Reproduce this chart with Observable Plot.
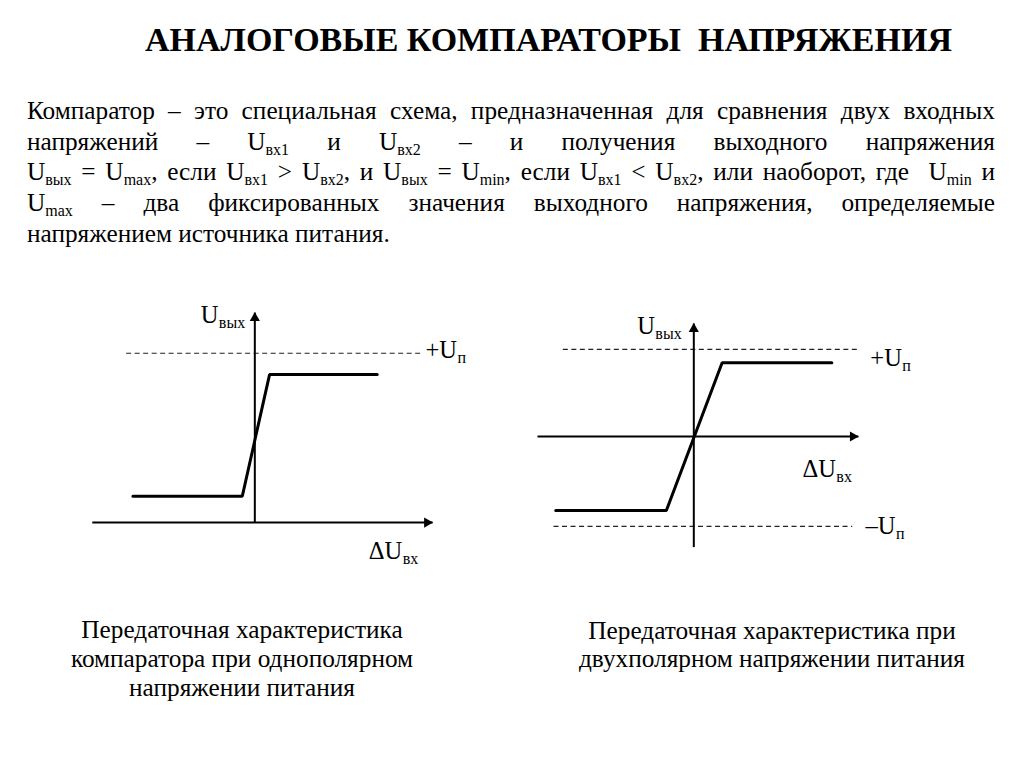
<!DOCTYPE html>
<html><head><meta charset="utf-8">
<script src="https://cdn.jsdelivr.net/npm/d3@7"></script>
<script src="https://cdn.jsdelivr.net/npm/@observablehq/plot@0.6"></script>
<style>
html,body{margin:0;padding:0;background:#fff;}
body{width:1024px;height:767px;position:relative;overflow:hidden;color:#000;}
#title{position:absolute;left:73px;top:23px;width:951px;text-align:center;font-weight:bold;font-size:34px;line-height:34px;white-space:pre;}
.pl{position:absolute;left:27px;width:968px;height:31px;line-height:31px;font-size:25.3px;text-align:justify;text-align-last:justify;white-space:nowrap;}
.pl.last{text-align-last:left;}
.pl sub{font-size:16px;vertical-align:-5px;line-height:0;}
.cap{position:absolute;text-align:center;font-size:25.3px;white-space:nowrap;}
.fig{position:absolute;}
</style></head><body style="font-family:'Liberation Serif',serif">
<div id="title" style="font-family:'Liberation Serif',serif">АНАЛОГОВЫЕ КОМПАРАТОРЫ  НАПРЯЖЕНИЯ</div>
<div id="para" style="font-family:'Liberation Serif',serif"></div>
<div id="figL" class="fig" style="left:60px;top:270px"></div>
<div id="figR" class="fig" style="left:530px;top:300px"></div>
<div class="cap" style="left:42px;top:615px;width:400px;line-height:29.2px;font-family:'Liberation Serif',serif" id="capL"></div>
<div class="cap" style="left:552px;top:615.5px;width:440px;line-height:28.3px;font-family:'Liberation Serif',serif" id="capR"></div>
<script>
// ---- text content ----
const paragraphLines = [
  "Компаратор – это специальная схема, предназначенная для сравнения двух входных",
  "напряжений – U<sub>вх1</sub> и U<sub>вх2</sub> – и получения выходного напряжения",
  "U<sub>вых</sub> = U<sub>max</sub>, если U<sub>вх1</sub> &gt; U<sub>вх2</sub>, и U<sub>вых</sub> = U<sub>min</sub>, если U<sub>вх1</sub> &lt; U<sub>вх2</sub>, или наоборот, где &nbsp;U<sub>min</sub> и",
  "U<sub>max</sub> – два фиксированных значения выходного напряжения, определяемые",
  "напряжением источника питания."
];
const captionLeft = ["Передаточная характеристика", "компаратора при однополярном", "напряжении питания"];
const captionRight = ["Передаточная характеристика при", "двухполярном напряжении питания"];

// ---- left diagram (unipolar supply) ----
const leftAxes = [{x1:-9.6,y1:0,x2:10.5,y2:0},{x1:0,y1:0,x2:0,y2:12.4}];
const leftHeadX = [{x:10.5,y:0}];
const leftHeadY = [{x:0,y:12.4}];
const leftDashed = [{x1:-7.6,y1:10,x2:9.8,y2:10}];
const leftCurve = [{x:-7.2,y:1.55},{x:-0.74,y:1.55},{x:0.87,y:8.74},{x:7.23,y:8.74}];
const leftLabels = [
  {x:-3.2,y:11.8,main:"U",sub:"вых"},
  {x:10.08,y:9.69,main:"+U",sub:"п"},
  {x:6.73,y:-2.13,main:"ΔU",sub:"вх"}
];

// ---- right diagram (bipolar supply) ----
const rightAxes = [{x1:-17.66,y1:0,x2:18.6,y2:0},{x1:0,y1:-12.5,x2:0,y2:12.77}];
const rightHeadX = [{x:18.6,y:0}];
const rightHeadY = [{x:0,y:12.77}];
const rightDashed = [{x1:-14.8,y1:9.85,x2:18.8,y2:9.85},{x1:-15.85,y1:-10.15,x2:17.9,y2:-10.15}];
const rightCurve = [{x:-15.6,y:-8.36},{x:-3.1,y:-8.36},{x:3.2,y:8.33},{x:15.6,y:8.33}];
const rightLabels = [
  {x:-6.4,y:11.6,main:"U",sub:"вых"},
  {x:19.95,y:8.0,main:"+U",sub:"п"},
  {x:12.27,y:-4.6,main:"ΔU",sub:"вх"},
  {x:19.4,y:-11.0,main:"–U",sub:"п"}
];

// ---- build text ----
const para = document.getElementById("para");
paragraphLines.forEach((html, i) => {
  const d = document.createElement("div");
  d.className = "pl" + (i === paragraphLines.length - 1 ? " last" : "");
  d.style.top = (95.3 + i * 30.55) + "px";
  d.style.fontFamily = "'Liberation Serif', serif";
  d.innerHTML = html;
  para.appendChild(d);
});
document.getElementById("capL").innerHTML = captionLeft.join("<br>");
document.getElementById("capR").innerHTML = captionRight.join("<br>");

// ---- diagrams ----
const FONT = "'Liberation Serif', serif";
const MAIN = 24.5, SUB = 16;
const ctx = document.createElement("canvas").getContext("2d");
ctx.font = MAIN + "px 'Liberation Serif'";
const measure = s => ctx.measureText(s).width;

function labelMarks(labels) {
  return labels.flatMap(l => [
    Plot.text([l], {x:"x", y:"y", text:"main", textAnchor:"start", lineAnchor:"bottom", fontSize:MAIN, fontFamily:FONT, fill:"#000"}),
    Plot.text([l], {x:"x", y:"y", text:"sub", textAnchor:"start", lineAnchor:"bottom", fontSize:SUB, fontFamily:FONT, fill:"#000", dx: measure(l.main) + 0.5, dy: 5})
  ]);
}

function diagram({axes, headX, headY, dashed, curve, labels, xDomain, yDomain, width, height, margins}) {
  return Plot.plot({
    width, height,
    marginLeft: margins[0], marginRight: margins[1], marginTop: margins[2], marginBottom: margins[3],
    x: {domain: xDomain, axis: null},
    y: {domain: yDomain, axis: null},
    style: {background: "transparent", overflow: "visible", fontFamily: FONT},
    marks: [
      Plot.link(dashed, {x1:"x1", y1:"y1", x2:"x2", y2:"y2", stroke:"#222", strokeWidth:1.1, strokeDasharray:"5,3.5"}),
      Plot.link(axes, {x1:"x1", y1:"y1", x2:"x2", y2:"y2", stroke:"#000", strokeWidth:2}),
      Plot.dot(headX, {x:"x", y:"y", symbol:"triangle", rotate:90, r:3.8, fill:"#000", stroke:null, dx:-5.5}),
      Plot.dot(headY, {x:"x", y:"y", symbol:"triangle", rotate:0, r:3.8, fill:"#000", stroke:null, dy:5.5}),
      Plot.line(curve, {x:"x", y:"y", stroke:"#000", strokeWidth:3, strokeLinejoin:"miter"}),
      ...labelMarks(labels)
    ]
  });
}

document.getElementById("figL").appendChild(diagram({
  axes: leftAxes, headX: leftHeadX, headY: leftHeadY, dashed: leftDashed, curve: leftCurve, labels: leftLabels,
  xDomain: [-10, 12], yDomain: [-3, 14], width: 420, height: 320, margins: [25, 22.5, 15, 17.2]
}));
document.getElementById("figR").appendChild(diagram({
  axes: rightAxes, headX: rightHeadX, headY: rightHeadY, dashed: rightDashed, curve: rightCurve, labels: rightLabels,
  xDomain: [-18, 28], yDomain: [-13, 14], width: 420, height: 270, margins: [4, 8.9, 12.1, 18.95]
}));
</script>
</body></html>
